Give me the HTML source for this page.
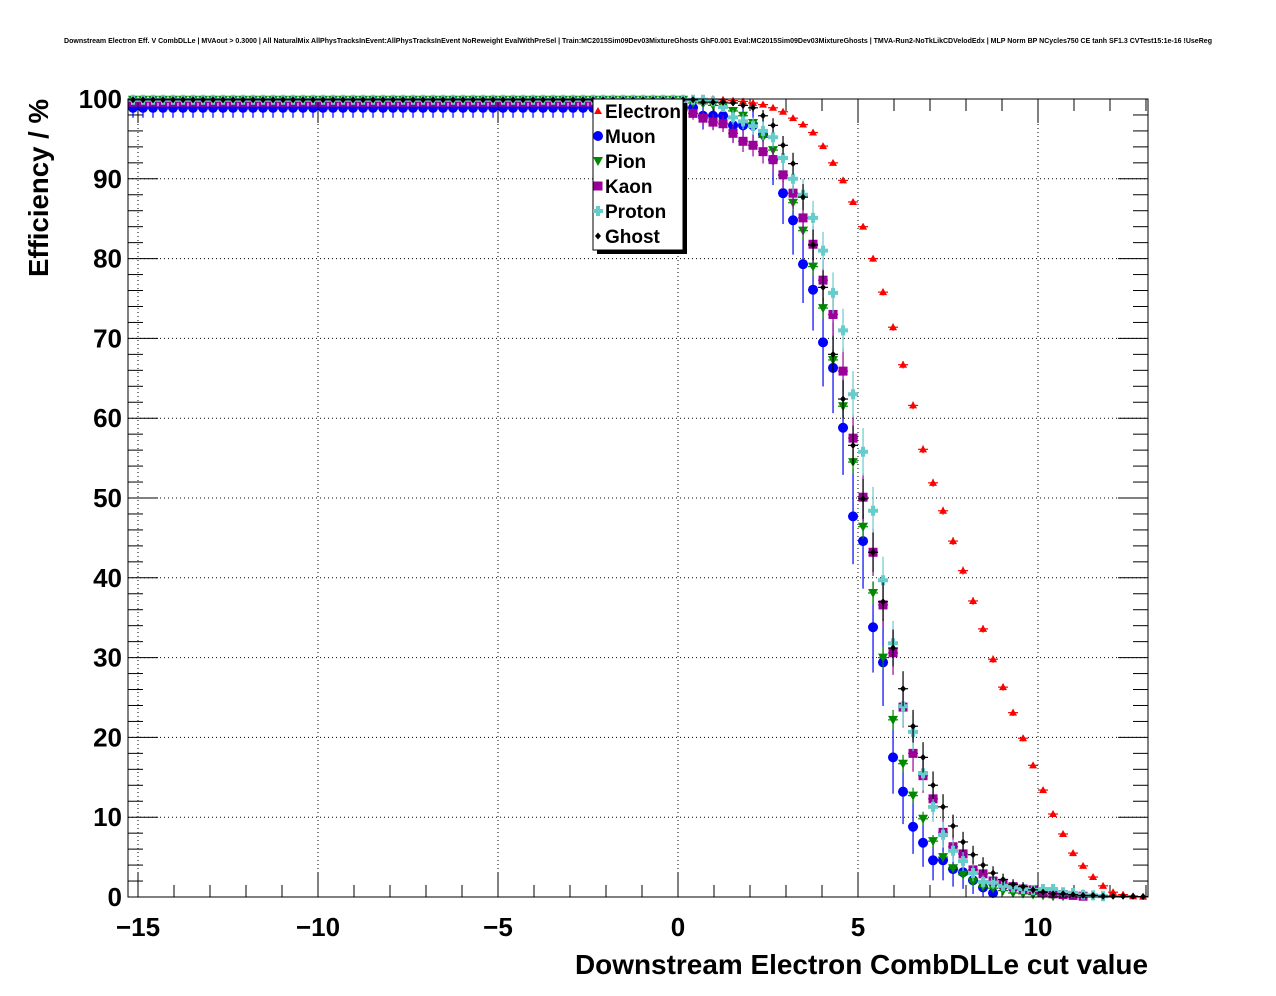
<!DOCTYPE html>
<html><head><meta charset="utf-8"><style>
html,body{margin:0;padding:0;background:#fff;}
svg{display:block;font-family:"Liberation Sans",Arial,sans-serif;}
</style></head><body>
<svg id="chart" width="1276" height="996" viewBox="0 0 1276 996">
<rect x="0" y="0" width="1276" height="996" fill="#fff"/>
<text x="638" y="43" text-anchor="middle" font-size="7" font-weight="bold" textLength="1148" lengthAdjust="spacingAndGlyphs">Downstream Electron Eff. V CombDLLe | MVAout &gt; 0.3000 | All NaturalMix AllPhysTracksInEvent:AllPhysTracksInEvent NoReweight EvalWithPreSel | Train:MC2015Sim09Dev03MixtureGhosts GhF0.001 Eval:MC2015Sim09Dev03MixtureGhosts | TMVA-Run2-NoTkLikCDVelodEdx | MLP Norm BP NCycles750 CE tanh SF1.3 CVTest15:1e-16 !UseReg</text>
<g id="grid"></g>
<g id="axes"></g>
<g id="series"></g>
<rect x="128" y="99" width="1020" height="798" fill="none" stroke="#000" stroke-width="1"/>
<text x="0" y="0" transform="translate(48,99) rotate(-90)" text-anchor="end" font-size="28" font-weight="bold" textLength="178" lengthAdjust="spacingAndGlyphs">Efficiency / %</text>
<text x="1148" y="974" text-anchor="end" font-size="28" font-weight="bold" textLength="573" lengthAdjust="spacingAndGlyphs">Downstream Electron CombDLLe cut value</text>
<g id="legend"></g>
</svg>
<script>
const seriesNames = ["Electron","Muon","Pion","Kaon","Proton","Ghost"];
const xTicks = [-15,-10,-5,0,5,10];
const xTickLabels = ["\u221215","\u221210","\u22125","0","5","10"];
const yTicks = [0,10,20,30,40,50,60,70,80,90,100];
const yTickLabels = ["0","10","20","30","40","50","60","70","80","90","100"];
const binCount = 102;
const binStart = -15.278;
const binWidth = 0.2778;

const electron = [
100,100,100,100,100,100,100,100,100,100,
100,100,100,100,100,100,100,100,100,100,
100,100,100,100,100,100,100,100,100,100,
100,100,100,100,100,100,100,100,100,100,
100,100,100,100,100,100,100,100,100,100,
100,100,100,100,100,100,100,100,100,99.9,
99.8,99.7,99.5,99.3,98.9,98.4,97.6,96.8,95.8,94.1,
92,89.8,87.1,84,80,75.8,71.4,66.7,61.6,56.1,
51.9,48.4,44.6,40.9,37.1,33.6,29.8,26.3,23.1,19.9,
16.5,13.4,10.4,7.9,5.5,3.9,2.5,1.4,0.6,0.3,
0.1,0.05];
const muon = [
98.9,98.9,98.9,98.9,98.9,98.9,98.9,98.9,98.9,98.9,
98.9,98.9,98.9,98.9,98.9,98.9,98.9,98.9,98.9,98.9,
98.9,98.9,98.9,98.9,98.9,98.9,98.9,98.9,98.9,98.9,
98.9,98.9,98.9,98.9,98.9,98.9,98.9,98.9,98.9,98.9,
98.9,98.9,98.9,98.9,98.9,98.9,98.9,98.9,98.9,98.9,
98.9,98.9,98.9,98.9,98.9,98.9,98.9,97.9,97.9,97.9,
96.7,96.7,96.7,95.6,92.4,88.2,84.8,79.3,76.1,69.5,
66.3,58.8,47.7,44.6,33.8,29.4,17.5,13.2,8.8,6.8,
4.6,4.6,3.5,3.1,2.1,1.2,0.5,0,0,0,
0,0,0,0,0,0,0,0,0,0,
0,0];
const pion = [
99.9,99.9,99.9,99.9,99.9,99.9,99.9,99.9,99.9,99.9,
99.9,99.9,99.9,99.9,99.9,99.9,99.9,99.9,99.9,99.9,
99.9,99.9,99.9,99.9,99.9,99.9,99.9,99.9,99.9,99.9,
99.9,99.9,99.9,99.9,99.9,99.9,99.9,99.9,99.9,99.9,
99.9,99.9,99.9,99.9,99.9,99.9,99.9,99.9,99.9,99.9,
99.9,99.9,99.9,99.9,99.9,99.9,99.5,99.4,99.2,99,
98.5,97.9,97,95.2,93.6,90.4,87,83.5,79,73.8,
67.3,61.5,54.5,46.4,38.1,30,22.2,16.7,12.7,9.8,
7,5,3.6,2.8,1.9,1.3,1.1,0.8,0.5,0.4,
0.3,0.2,0.1,0.1,0,0,0,0,0,0,
0,0];
const kaon = [
99.6,99.6,99.6,99.6,99.6,99.6,99.6,99.6,99.6,99.6,
99.6,99.6,99.6,99.6,99.6,99.6,99.6,99.6,99.6,99.6,
99.6,99.6,99.6,99.6,99.6,99.6,99.6,99.6,99.6,99.6,
99.6,99.6,99.6,99.6,99.6,99.6,99.6,99.6,99.6,99.6,
99.6,99.6,99.6,99.6,99.6,99.6,99.6,99.6,99.6,99.6,
99.6,99.6,99.6,99.6,99.6,99,98.2,97.6,97.1,96.9,
95.7,94.7,94.2,93.4,92.4,90.5,88.2,85.1,81.8,77.3,
73,65.9,57.5,50.1,43.2,36.6,30.6,23.8,18,15.2,
12.3,8.1,6.3,5.4,3.4,2.9,2,1.6,1.3,1,
0.9,0.6,0.4,0.3,0.2,0.1,0,0,0,0,
0,0];
const proton = [
99.9,99.9,99.9,99.9,99.9,99.9,99.9,99.9,99.9,99.9,
99.9,99.9,99.9,99.9,99.9,99.9,99.9,99.9,99.9,99.9,
99.9,99.9,99.9,99.9,99.9,99.9,99.9,99.9,99.9,99.9,
99.9,99.9,99.9,99.9,99.9,99.9,99.9,99.9,99.9,99.9,
99.9,99.9,99.9,99.9,99.9,99.9,99.9,99.9,99.9,99.9,
99.9,99.9,99.9,99.9,99.9,99.9,99.9,99.9,99.7,99,
97.7,97.2,96.6,96,95.2,92.6,90,88,85.1,81,
75.7,71,63,55.8,48.4,39.7,31.8,23.9,20.7,15.5,
11.3,7.8,5.8,4.5,3,1.9,1.8,1.4,1.2,1,
0.9,1,1,0.6,0.5,0.3,0.2,0.1,0,0,
0,0];
const ghost = [
99.9,99.9,99.9,99.9,99.9,99.9,99.9,99.9,99.9,99.9,
99.9,99.9,99.9,99.9,99.9,99.9,99.9,99.9,99.9,99.9,
99.9,99.9,99.9,99.9,99.9,99.9,99.9,99.9,99.9,99.9,
99.9,99.9,99.9,99.9,99.9,99.9,99.9,99.9,99.9,99.9,
99.9,99.9,99.9,99.9,99.9,99.9,99.9,99.9,99.9,99.9,
99.9,99.9,99.9,99.9,99.9,99.9,99.9,99.6,99.6,99.6,
99.5,99.2,98.9,97.9,96.7,94.2,91.9,87.7,81.7,76.4,
68,62.4,56.6,49.9,43.2,37,31.2,26.1,21.4,17.5,
14,11.3,8.9,6.9,5.3,4,3,2.2,1.6,1.3,
0.9,0.6,0.4,0.4,0.3,0.2,0.2,0.1,0.1,0.1,
0.1,0.05];
const errScale = [0.01,0.12,0.03,0.06,0.06,0.05];

const NS = "http://www.w3.org/2000/svg";
const X0 = 128, X1 = 1148, Y0 = 897, Y1 = 99;
const XMIN = -15.278, XMAX = 13.056;
function xs(v){ return X0 + (v - XMIN) / (XMAX - XMIN) * (X1 - X0); }
function ys(v){ return Y0 - v / 100 * (Y0 - Y1); }
function mk(tag, attrs, parent){
  const e = document.createElementNS(NS, tag);
  for (const k in attrs) e.setAttribute(k, attrs[k]);
  parent.appendChild(e);
  return e;
}
const grid = document.getElementById('grid');
const axes = document.getElementById('axes');
const ser = document.getElementById('series');
const leg = document.getElementById('legend');

xTicks.forEach(t => {
  if (t <= XMIN) return;
  const l = mk('line', {x1: xs(t), x2: xs(t), y1: Y0, y2: Y1, stroke: '#000', 'stroke-width': 1, 'stroke-dasharray': '1,3'}, grid);
  
  
});
yTicks.forEach(t => {
  if (t <= 0 || t >= 100) return;
  const l = mk('line', {x1: X0, x2: X1, y1: ys(t), y2: ys(t), stroke: '#000', 'stroke-width': 1, 'stroke-dasharray': '1,3'}, grid);
  
  
});
for (let v = -15; v <= 13; v++) {
  const major = (v % 5 === 0);
  const len = major ? 24 : 12;
  const x = xs(v);
  const a = mk('line', {x1: x, x2: x, y1: Y0, y2: Y0 - len, stroke: '#000', 'stroke-width': 1}, axes);
  
  
  const b = mk('line', {x1: x, x2: x, y1: Y1, y2: Y1 + len, stroke: '#000', 'stroke-width': 1}, axes);
  
  
}
xTicks.forEach((t, i) => {
  const tx = mk('text', {x: xs(t), y: 936, 'text-anchor': 'middle', 'font-size': 26, 'font-weight': 'bold'}, axes);
  tx.textContent = xTickLabels[i];
  
  
});
for (let v = 0; v <= 100; v += 2) {
  const major = (v % 10 === 0);
  const len = major ? 30 : 15;
  const y = ys(v);
  const a = mk('line', {x1: X0, x2: X0 + len, y1: y, y2: y, stroke: '#000', 'stroke-width': 1}, axes);
  
  
  const b = mk('line', {x1: X1, x2: X1 - len, y1: y, y2: y, stroke: '#000', 'stroke-width': 1}, axes);
  
  
}
yTicks.forEach((t, i) => {
  const tx = mk('text', {x: 122, y: ys(t) + 9, 'text-anchor': 'end', 'font-size': 26, 'font-weight': 'bold'}, axes);
  tx.textContent = yTickLabels[i];
  
  
});

const colors = ['#ff0000','#0000ff','#008800','#990099','#66cccc','#000000'];
function marker(kind, cx, cy, parent, big){
  const c = colors[kind];
  const s = big ? 1.2 : 1;
  let m;
  if (kind === 0) m = mk('polygon', {points: `${cx},${cy-4*s} ${cx-4*s},${cy+3*s} ${cx+4*s},${cy+3*s}`, fill: c}, parent);
  else if (kind === 1) m = mk('circle', {cx: cx, cy: cy, r: 5*s, fill: c}, parent);
  else if (kind === 2) m = mk('polygon', {points: `${cx-5*s},${cy-4*s} ${cx+5*s},${cy-4*s} ${cx},${cy+5*s}`, fill: c}, parent);
  else if (kind === 3) m = mk('rect', {x: cx-4.5*s, y: cy-4.5*s, width: 9*s, height: 9*s, fill: c}, parent);
  else if (kind === 4) m = mk('path', {d: `M${cx-2*s},${cy-5*s}h${4*s}v${3*s}h${3*s}v${4*s}h${-3*s}v${3*s}h${-4*s}v${-3*s}h${-3*s}v${-4*s}h${3*s}z`, fill: c}, parent);
  else m = mk('polygon', {points: `${cx},${cy-3.5*s} ${cx+3*s},${cy} ${cx},${cy+3.5*s} ${cx-3*s},${cy}`, fill: c}, parent);
  return m;
}
const allSeries = [electron, muon, pion, kaon, proton, ghost];
allSeries.forEach((vals, k) => {
  const g = mk('g', {}, ser);
  
  
  vals.forEach((v, i) => {
    if (v <= 0) return;
    const xv = binStart + (i + 0.5) * binWidth;
    const cx = xs(xv), cy = ys(v);
    const err = errScale[k] * Math.sqrt(v * Math.max(100 - v, 0.5));
    const hx = xs(xv + binWidth / 2) - cx;
    const e1 = mk('line', {x1: cx - hx, x2: cx + hx, y1: cy, y2: cy, stroke: colors[k], 'stroke-width': 1.2}, g);
    
    
    const e2 = mk('line', {x1: cx, x2: cx, y1: ys(Math.min(v + err, 100)), y2: ys(Math.max(v - err, 0)), stroke: colors[k], 'stroke-width': 1.2}, g);
    
    
    const m = marker(k, cx, cy, g, false);
    
    
  });
});

const sh = mk('rect', {x: 597, y: 103, width: 90, height: 151, fill: '#000'}, leg);


const box = mk('rect', {x: 593, y: 99, width: 90, height: 151, fill: '#fff', stroke: '#000', 'stroke-width': 1}, leg);


seriesNames.forEach((n, i) => {
  const y = 111 + i * 25;
  const m = marker(i, 598, y, leg, false);
  
  
  const t = mk('text', {x: 605, y: y + 7, 'font-size': 19, 'font-weight': 'bold'}, leg);
  t.textContent = n;
  
  
});
</script>
</body></html>
